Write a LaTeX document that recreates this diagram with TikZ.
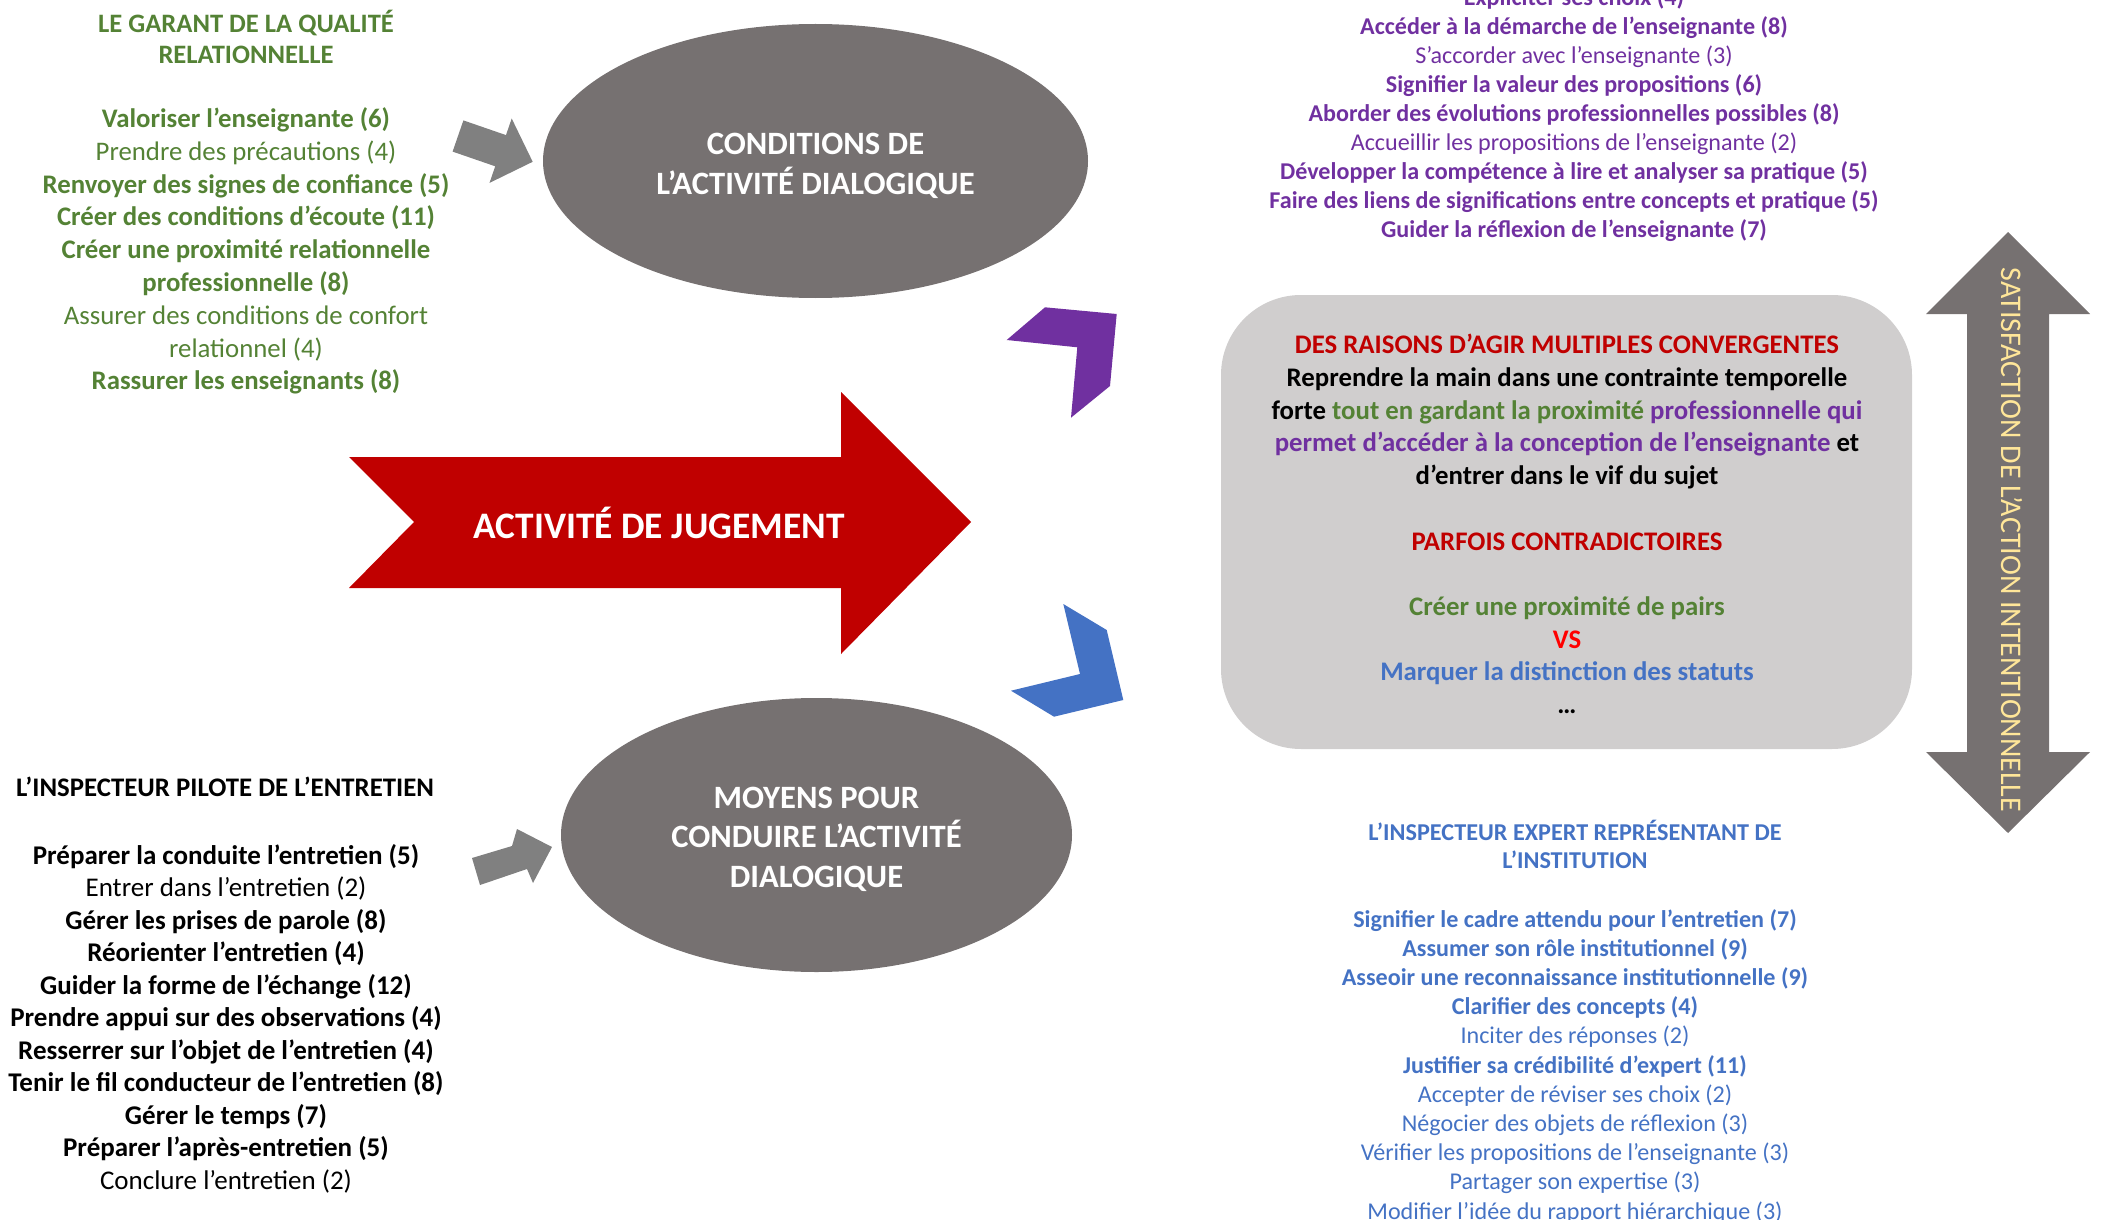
\documentclass[tikz,border=0pt]{standalone}
\usepackage{fontspec}
\setmainfont{Carlito}
\usetikzlibrary{shapes.geometric}
\definecolor{cgreen}{RGB}{84,130,53}
\definecolor{cpurple}{RGB}{112,48,160}
\definecolor{cblue}{RGB}{68,114,196}
\definecolor{cdarkred}{RGB}{192,0,0}
\definecolor{cred}{RGB}{255,0,0}
\definecolor{cellipse}{RGB}{118,113,113}
\definecolor{carrow}{RGB}{128,128,128}
\definecolor{cbox}{RGB}{208,206,206}
\definecolor{cyellow}{RGB}{255,230,153}
\begin{document}
\begin{tikzpicture}[x=0.5pt,y=-0.5pt,
  txt/.style={align=center,inner sep=0pt,anchor=center},
  bodyfont/.style={font=\fontsize{13.4}{16.4}\selectfont},
  titlefont/.style={font=\fontsize{13.3}{15.8}\selectfont\bfseries},
  oval/.style={ellipse,fill=cellipse,text=white,inner sep=0pt,align=center,
     font=\fontsize{16.3}{19.8}\selectfont\bfseries},
  blockarrow/.style={fill=carrow}]
\useasboundingbox (0,0) rectangle (2106,1220);

% ---------- ellipses ----------
\node[oval,minimum width=272.5pt,minimum height=137pt] (cond) at (815.5,161) {};
\node[txt,text=white,font=\fontsize{16.3}{19.8}\selectfont\bfseries] (condtext) at (815.5,166)
  {CONDITIONS DE\\L’ACTIVITÉ DIALOGIQUE};
\node[oval,minimum width=255.5pt,minimum height=137pt] (moyens) at (816.5,835) {};
\node[txt,text=white,font=\fontsize{16.3}{19.8}\selectfont\bfseries] (moyenstext) at (816.5,839)
  {MOYENS POUR\\CONDUIRE L’ACTIVITÉ\\DIALOGIQUE};

% ---------- small grey arrows ----------
\fill[blockarrow] (463.4,120.4) -- (506,135.1) -- (511.7,118.5) -- (532.7,161.8)
  -- (489.5,182.9) -- (495.2,166.3) -- (452.6,151.6) -- cycle;
\fill[blockarrow] (472,858) -- (512,846) -- (517,829) -- (552,847)
  -- (533,883) -- (527,869) -- (480,885) -- cycle;

% ---------- red arrow ----------
\fill[cdarkred] (349,457) -- (841,457) -- (841,392) -- (971,522) -- (841,654)
  -- (841,588) -- (349,588) -- (414,522) -- cycle;
\node[txt,text=white,font=\fontsize{18.7}{22}\selectfont\bfseries] (jugement) at (659,523)
  {ACTIVITÉ DE JUGEMENT};

% ---------- chevrons ----------
\fill[cpurple] (1006.7,340) -- (1045,307.3) -- (1116.7,314) -- (1110,386)
  -- (1071,417.7) -- (1077.3,347.3) -- cycle;
\fill[cblue] (1063.3,604) -- (1106.7,630) -- (1123.3,700) -- (1054,716.7)
  -- (1011,690.7) -- (1080,674) -- cycle;

% ---------- grey rounded box ----------
\fill[cbox,rounded corners=40pt] (1221,295) rectangle (1912,749);
\node[txt,font=\fontsize{13.4}{16.35}\selectfont\bfseries] (raisons) at (1567,524) {%
\textcolor{cdarkred}{DES RAISONS D’AGIR MULTIPLES CONVERGENTES}\\
Reprendre la main dans une contrainte temporelle\\
forte \textcolor{cgreen}{tout en gardant la proximité} \textcolor{cpurple}{professionnelle qui}\\
\textcolor{cpurple}{permet d’accéder à la conception de l’enseignante} et\\
d’entrer dans le vif du sujet\\
\mbox{}\\
\textcolor{cdarkred}{PARFOIS CONTRADICTOIRES}\\
\mbox{}\\
\textcolor{cgreen}{Créer une proximité de pairs}\\
\textcolor{cred}{VS}\\
\textcolor{cblue}{Marquer la distinction des statuts}\\
…};

% ---------- vertical double arrow ----------
\fill[cellipse] (2008,232) -- (2090,314) -- (2049,314) -- (2049,752) -- (2090,752)
  -- (2008,833) -- (1926,752) -- (1967,752) -- (1967,314) -- (1926,314) -- cycle;
\node[txt,rotate=-90,text=cyellow,font=\fontsize{15}{18}\selectfont] (satisf) at (2012,540)
  {SATISFACTION DE L’ACTION INTENTIONNELLE};

% ---------- green block ----------
\node[txt,titlefont,text=cgreen] (gtitle) at (246,37)
  {LE GARANT DE LA QUALITÉ\\RELATIONNELLE};
\node[txt,bodyfont,text=cgreen] (glist) at (246,251) {%
\textbf{Valoriser l’enseignante (6)}\\
Prendre des précautions (4)\\
\textbf{Renvoyer des signes de confiance (5)}\\
\textbf{Créer des conditions d’écoute (11)}\\
\textbf{Créer une proximité relationnelle}\\
\textbf{professionnelle (8)}\\
Assurer des conditions de confort\\
relationnel (4)\\
\textbf{Rassurer les enseignants (8)}};

% ---------- black block ----------
\node[txt,font=\fontsize{13.4}{15}\selectfont\bfseries] (btitle) at (225,787)
  {L’INSPECTEUR PILOTE DE L’ENTRETIEN};
\node[txt,font=\fontsize{13.5}{16.25}\selectfont] (blist) at (226,1018.5) {%
\textbf{Préparer la conduite l’entretien (5)}\\
Entrer dans l’entretien (2)\\
\textbf{Gérer les prises de parole (8)}\\
\textbf{Réorienter l’entretien (4)}\\
\textbf{Guider la forme de l’échange (12)}\\
\textbf{Prendre appui sur des observations (4)}\\
\textbf{Resserrer sur l’objet de l’entretien (4)}\\
\textbf{Tenir le fil conducteur de l’entretien (8)}\\
\textbf{Gérer le temps (7)}\\
\textbf{Préparer l’après-entretien (5)}\\
Conclure l’entretien (2)};

% ---------- purple block ----------
\node[txt,font=\fontsize{12.05}{14.45}\selectfont,text=cpurple] (plist) at (1574,114.5) {%
\textbf{Expliciter ses choix (4)}\\
\textbf{Accéder à la démarche de l’enseignante (8)}\\
S’accorder avec l’enseignante (3)\\
\textbf{Signifier la valeur des propositions (6)}\\
\textbf{Aborder des évolutions professionnelles possibles (8)}\\
Accueillir les propositions de l’enseignante (2)\\
\textbf{Développer la compétence à lire et analyser sa pratique (5)}\\
\textbf{Faire des liens de significations entre concepts et pratique (5)}\\
\textbf{Guider la réflexion de l’enseignante (7)}};

% ---------- blue block ----------
\node[txt,font=\fontsize{12.1}{14}\selectfont\bfseries,text=cblue] (ltitle) at (1575,844)
  {L’INSPECTEUR EXPERT REPRÉSENTANT DE\\L’INSTITUTION};
\node[txt,font=\fontsize{12.05}{14.6}\selectfont,text=cblue] (llist) at (1575,1066) {%
\textbf{Signifier le cadre attendu pour l’entretien (7)}\\
\textbf{Assumer son rôle institutionnel (9)}\\
\textbf{Asseoir une reconnaissance institutionnelle (9)}\\
\textbf{Clarifier des concepts (4)}\\
Inciter des réponses (2)\\
\textbf{Justifier sa crédibilité d’expert (11)}\\
Accepter de réviser ses choix (2)\\
Négocier des objets de réflexion (3)\\
Vérifier les propositions de l’enseignante (3)\\
Partager son expertise (3)\\
Modifier l’idée du rapport hiérarchique (3)};
\end{tikzpicture}
\end{document}
